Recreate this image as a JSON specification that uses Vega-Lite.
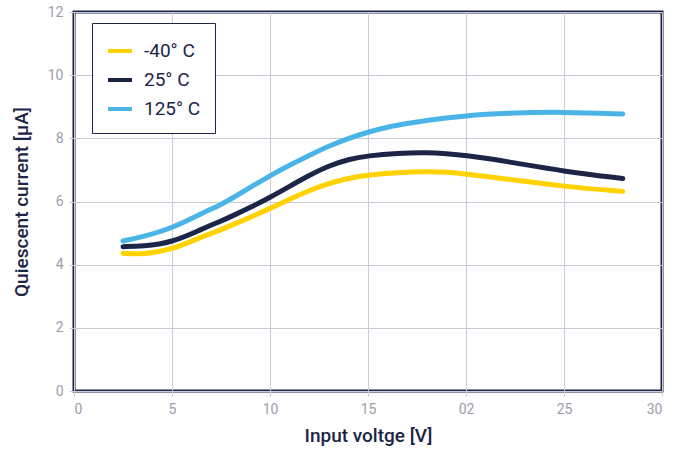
{
  "$schema": "https://vega.github.io/schema/vega-lite/v6.json",
  "width": 588,
  "height": 379,
  "autosize": "none",
  "padding": {"left": 74, "top": 12, "right": 26, "bottom": 60},
  "background": "white",
  "config": {
    "font": "Roboto, sans-serif",
    "view": {"stroke": "#1c2546", "strokeWidth": 3},
    "axis": {
      "grid": true,
      "gridColor": "#c9cbd6",
      "gridWidth": 1,
      "domain": false,
      "tickColor": "#c9cbd6",
      "tickSize": 5,
      "labelColor": "#9a9eaa",
      "labelFontSize": 14,
      "titleColor": "#1c2546",
      "titleFontSize": 19,
      "titleFontWeight": 500
    }
  },
  "data": {
    "values": [
      {"v": 2.5, "i": 4.36, "t": "-40° C"},
      {"v": 3.5, "i": 4.32, "t": "-40° C"},
      {"v": 5, "i": 4.47, "t": "-40° C"},
      {"v": 6.5, "i": 4.88, "t": "-40° C"},
      {"v": 7.5, "i": 5.1, "t": "-40° C"},
      {"v": 8, "i": 5.24, "t": "-40° C"},
      {"v": 9, "i": 5.5, "t": "-40° C"},
      {"v": 10, "i": 5.78, "t": "-40° C"},
      {"v": 11, "i": 6.07, "t": "-40° C"},
      {"v": 12, "i": 6.35, "t": "-40° C"},
      {"v": 13, "i": 6.58, "t": "-40° C"},
      {"v": 14, "i": 6.74, "t": "-40° C"},
      {"v": 15, "i": 6.84, "t": "-40° C"},
      {"v": 16.5, "i": 6.92, "t": "-40° C"},
      {"v": 18, "i": 6.95, "t": "-40° C"},
      {"v": 19, "i": 6.93, "t": "-40° C"},
      {"v": 20, "i": 6.87, "t": "-40° C"},
      {"v": 22, "i": 6.72, "t": "-40° C"},
      {"v": 25, "i": 6.47, "t": "-40° C"},
      {"v": 28, "i": 6.32, "t": "-40° C"},
      {"v": 2.5, "i": 4.57, "t": "25° C"},
      {"v": 3.5, "i": 4.58, "t": "25° C"},
      {"v": 5, "i": 4.7, "t": "25° C"},
      {"v": 6.5, "i": 5.12, "t": "25° C"},
      {"v": 7.5, "i": 5.38, "t": "25° C"},
      {"v": 8, "i": 5.52, "t": "25° C"},
      {"v": 9, "i": 5.81, "t": "25° C"},
      {"v": 10, "i": 6.13, "t": "25° C"},
      {"v": 11, "i": 6.48, "t": "25° C"},
      {"v": 12, "i": 6.83, "t": "25° C"},
      {"v": 13, "i": 7.13, "t": "25° C"},
      {"v": 14, "i": 7.34, "t": "25° C"},
      {"v": 15, "i": 7.45, "t": "25° C"},
      {"v": 16.5, "i": 7.53, "t": "25° C"},
      {"v": 18, "i": 7.55, "t": "25° C"},
      {"v": 19, "i": 7.52, "t": "25° C"},
      {"v": 20, "i": 7.46, "t": "25° C"},
      {"v": 22, "i": 7.28, "t": "25° C"},
      {"v": 25, "i": 6.95, "t": "25° C"},
      {"v": 28, "i": 6.73, "t": "25° C"},
      {"v": 2.5, "i": 4.75, "t": "125° C"},
      {"v": 3.5, "i": 4.88, "t": "125° C"},
      {"v": 5, "i": 5.15, "t": "125° C"},
      {"v": 6.5, "i": 5.62, "t": "125° C"},
      {"v": 7.5, "i": 5.9, "t": "125° C"},
      {"v": 8, "i": 6.08, "t": "125° C"},
      {"v": 9, "i": 6.45, "t": "125° C"},
      {"v": 10, "i": 6.82, "t": "125° C"},
      {"v": 11, "i": 7.15, "t": "125° C"},
      {"v": 12, "i": 7.46, "t": "125° C"},
      {"v": 13, "i": 7.76, "t": "125° C"},
      {"v": 14, "i": 8.0, "t": "125° C"},
      {"v": 15, "i": 8.2, "t": "125° C"},
      {"v": 16, "i": 8.36, "t": "125° C"},
      {"v": 17, "i": 8.47, "t": "125° C"},
      {"v": 18, "i": 8.57, "t": "125° C"},
      {"v": 20, "i": 8.72, "t": "125° C"},
      {"v": 22, "i": 8.8, "t": "125° C"},
      {"v": 25, "i": 8.84, "t": "125° C"},
      {"v": 28, "i": 8.77, "t": "125° C"}
    ]
  },
  "mark": {"type": "line", "strokeWidth": 5, "strokeCap": "round", "interpolate": "basis"},
  "encoding": {
    "x": {
      "field": "v",
      "type": "quantitative",
      "scale": {"domain": [0, 30], "nice": false},
      "axis": {
        "values": [0, 5, 10, 15, 20, 25, 30],
        "labelExpr": "datum.value == 20 ? '02' : datum.label",
        "labelPadding": 6,
        "titlePadding": 10
      },
      "title": "Input voltge [V]"
    },
    "y": {
      "field": "i",
      "type": "quantitative",
      "scale": {"domain": [0, 12], "nice": false},
      "axis": {"values": [0, 2, 4, 6, 8, 10, 12], "labelPadding": 6, "titlePadding": 16},
      "title": "Quiescent current [µA]"
    },
    "color": {
      "field": "t",
      "type": "nominal",
      "sort": ["-40° C", "25° C", "125° C"],
      "scale": {"domain": ["-40° C", "25° C", "125° C"], "range": ["#ffd200", "#1c2546", "#4bb4e6"]},
      "legend": {
        "title": null,
        "orient": "none",
        "legendX": 18,
        "legendY": 11,
        "symbolType": "stroke",
        "symbolSize": 576,
        "symbolStrokeWidth": 4,
        "labelFontSize": 19,
        "labelColor": "#1c2546",
        "labelOffset": 10,
        "rowPadding": 5,
        "padding": 14,
        "strokeColor": "#1c2546",
        "fillColor": "white",
        "cornerRadius": 0
      }
    }
  }
}
